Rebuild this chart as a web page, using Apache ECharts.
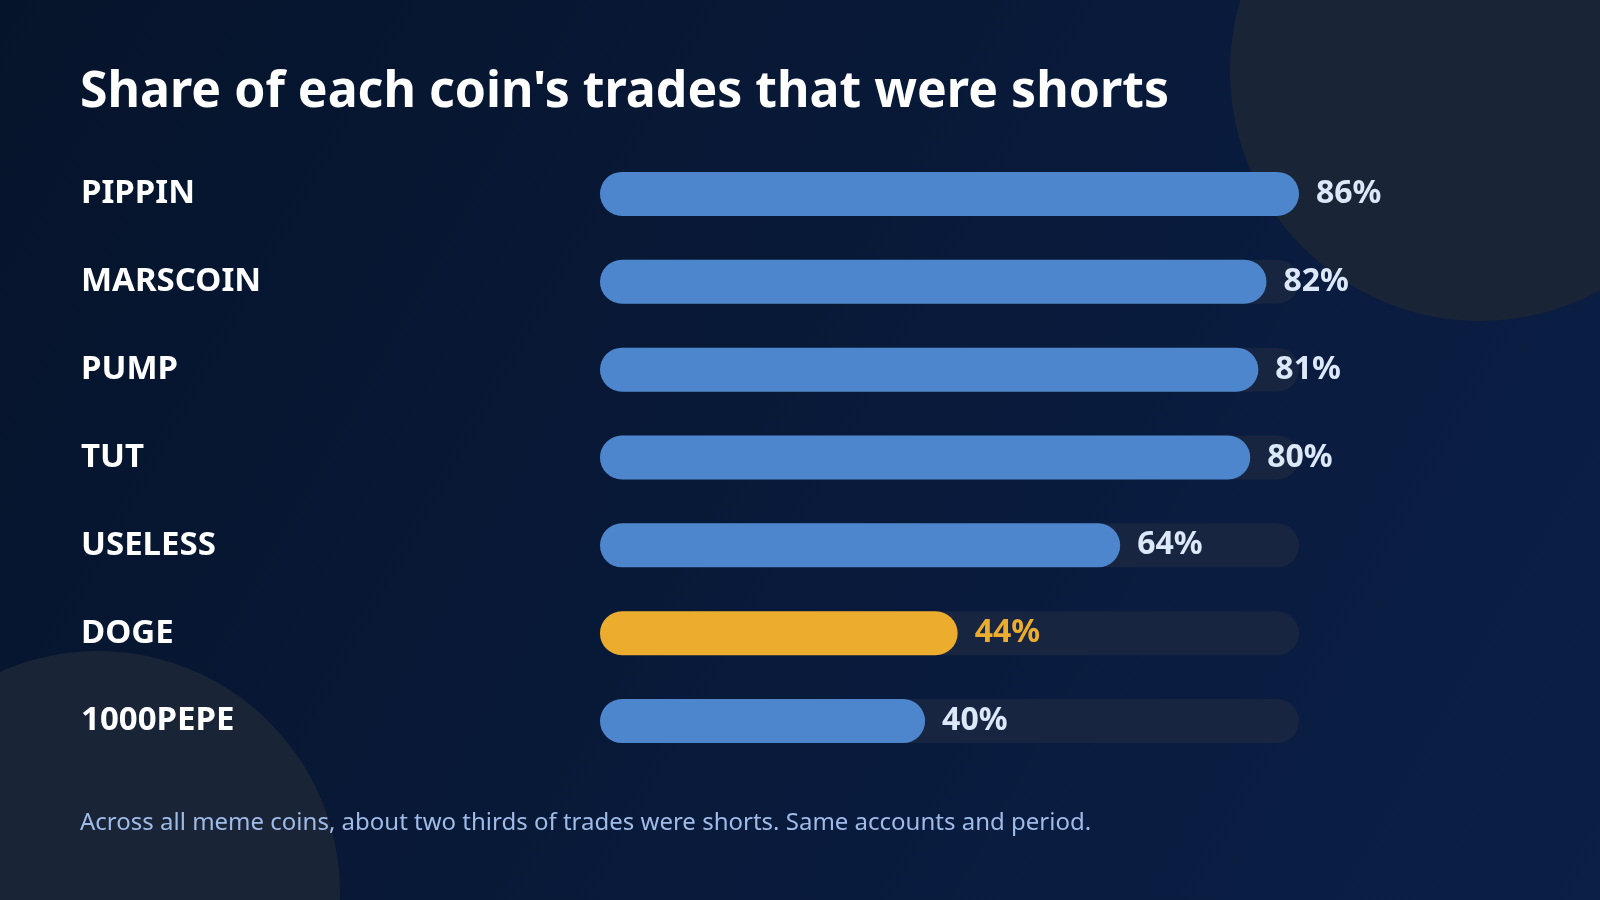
<!DOCTYPE html>
<html>
<head>
<meta charset="utf-8">
<script src="https://cdn.jsdelivr.net/npm/echarts@6/dist/echarts.min.js"></script>
<style>
  html, body { margin: 0; padding: 0; width: 1600px; height: 900px; overflow: hidden; background: #081733; }
  #chart { width: 1600px; height: 900px; }
</style>
</head>
<body>
<div id="chart"></div>
<script>
const titleText = "Share of each coin's trades that were shorts";
const footnoteText = "Across all meme coins, about two thirds of trades were shorts. Same accounts and period.";
const coins = ["PIPPIN", "MARSCOIN", "PUMP", "TUT", "USELESS", "DOGE", "1000PEPE"];
const shortShare = [86, 82, 81, 80, 64, 44, 40];
const highlightCoin = "DOGE";

const BLUE = '#4d86cc';
const AMBER = '#ecad2e';
const LABEL_LIGHT = '#dce7f8';

const chart = echarts.init(document.getElementById('chart'));

const seriesData = coins.map((c, i) => {
  const hl = c === highlightCoin;
  return {
    value: shortShare[i],
    itemStyle: { color: hl ? AMBER : BLUE },
    label: { color: hl ? AMBER : LABEL_LIGHT }
  };
});

chart.setOption({
  backgroundColor: new echarts.graphic.LinearGradient(0, 0, 1, 1, [
    { offset: 0, color: '#06142b' },
    { offset: 1, color: '#0b1f47' }
  ]),
  animation: false,
  title: [
    {
      text: titleText,
      left: 80, top: 61, padding: 0,
      textStyle: { color: '#ffffff', fontFamily: 'Noto Sans', fontWeight: 'bold', fontSize: 50, lineHeight: 64 }
    },
    {
      text: footnoteText,
      left: 80, top: 807, padding: 0,
      textStyle: { color: '#9fbbe8', fontFamily: 'Noto Sans', fontWeight: 'normal', fontSize: 24, lineHeight: 32 }
    }
  ],
  graphic: [
    { type: 'circle', z: -10, shape: { cx: 1480, cy: 71, r: 250 }, style: { fill: '#1a2437' }, silent: true },
    { type: 'circle', z: -10, shape: { cx: 98, cy: 893, r: 242 }, style: { fill: '#1a2437' }, silent: true }
  ],
  grid: { left: 600, right: 301, top: 150, bottom: 135, containLabel: false },
  xAxis: {
    type: 'value', min: 0, max: Math.max(...shortShare), show: false
  },
  yAxis: {
    type: 'category', data: coins, inverse: true,
    axisLine: { show: false }, axisTick: { show: false }, splitLine: { show: false },
    axisLabel: {
      align: 'left', margin: 519,
      color: '#ffffff', fontFamily: 'Noto Sans', fontWeight: 'bold', fontSize: 33
    }
  },
  series: [{
    type: 'bar',
    data: seriesData,
    barWidth: 44,
    showBackground: true,
    backgroundStyle: { color: '#172540', borderRadius: 22 },
    itemStyle: { borderRadius: 22 },
    label: {
      show: true, position: 'right', distance: 17,
      formatter: '{c}%',
      fontFamily: 'Noto Sans', fontWeight: 'bold', fontSize: 32
    }
  }]
});
</script>
</body>
</html>
